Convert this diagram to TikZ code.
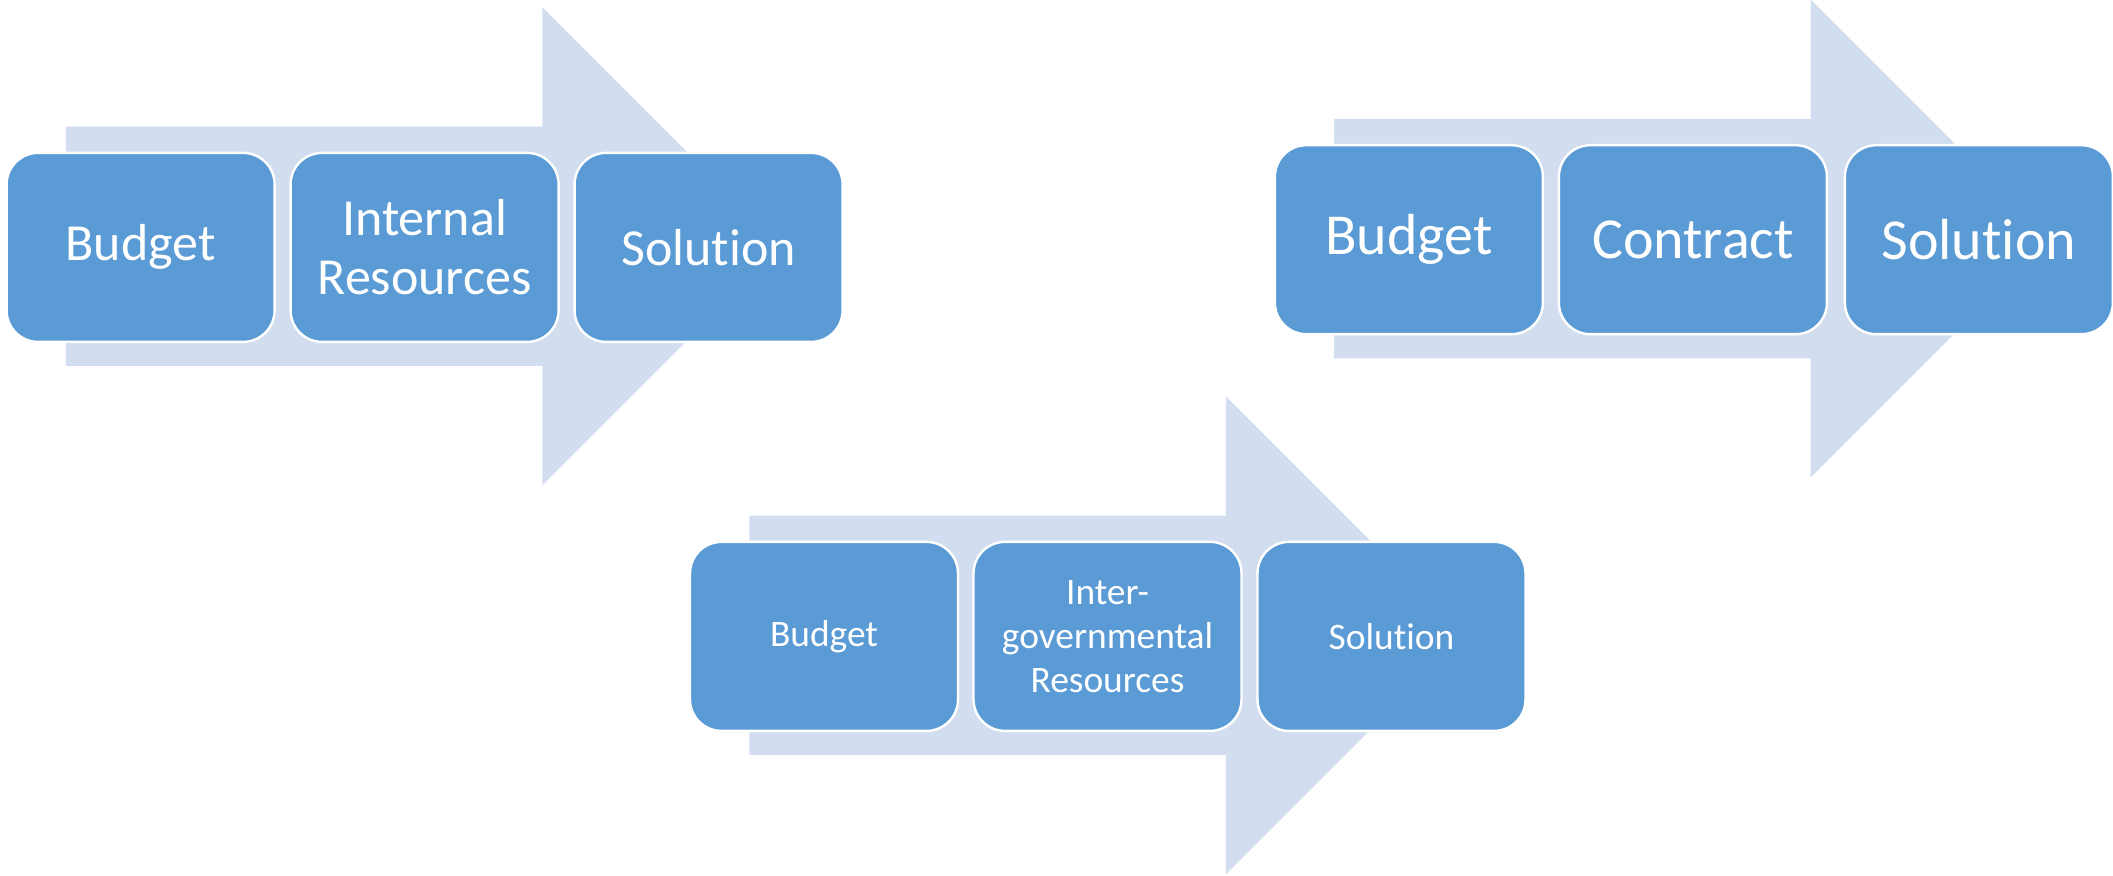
\documentclass[tikz,border=0pt]{standalone}
\usepackage{fontspec}
\setmainfont{Carlito}[Ligatures={NoCommon}]
\definecolor{boxblue}{HTML}{5B9BD5}
\definecolor{arrowblue}{HTML}{D2DEEF}
\tikzset{
  stepbox/.style={draw=white, line width=1.2pt, fill=boxblue, rounded corners=15.75pt,
    minimum width=134pt, minimum height=94.5pt, inner sep=0pt, text=white,
    align=center, text width=128pt, anchor=north west},
  bigarrow/.style={fill=arrowblue, draw=none},
  fbig/.style={font=\fontsize{26pt}{29.5pt}\selectfont},
  fhuge/.style={font=\fontsize{29pt}{33pt}\selectfont},
  fsmall/.style={font=\fontsize{18.7pt}{22pt}\selectfont}
}
\newcommand{\arrowshape}{%
  \fill[bigarrow] (60.5,-25) -- (537,-25) -- (537,-144.5) -- (776,94.5) -- (537,333.5) -- (537,214.3) -- (60.5,214.3) -- cycle;}
\begin{document}
\begin{tikzpicture}[x=0.5pt,y=-0.5pt]
\useasboundingbox (0,0) rectangle (2113,876);
% group 1
\begin{scope}[shift={(5.4,151.7)}]
  \arrowshape
  \node[stepbox,fbig] (a1) at (0,0) {Budget};
  \node[stepbox,fbig] (a2) at (284,0) {Internal\\Resources};
  \node[stepbox,fbig] (a3) at (568,0) {Solution};
\end{scope}
% group 2
\begin{scope}[shift={(1273.7,144)}]
  \arrowshape
  \node[stepbox,fhuge] (b1) at (0,0) {Budget};
  \node[stepbox,fhuge] (b2) at (284,0) {Contract};
  \node[stepbox,fhuge] (b3) at (570,0) {Solution};
\end{scope}
% group 3
\begin{scope}[shift={(688.8,540.7)}]
  \arrowshape
  \node[stepbox,fsmall] (c1) at (0,0) {Budget};
  \node[stepbox,fsmall] (c2) at (283.5,0) {Inter-\\governmental\\Resources};
  \node[stepbox,fsmall] (c3) at (567.5,0) {Solution};
\end{scope}
\end{tikzpicture}
\end{document}
